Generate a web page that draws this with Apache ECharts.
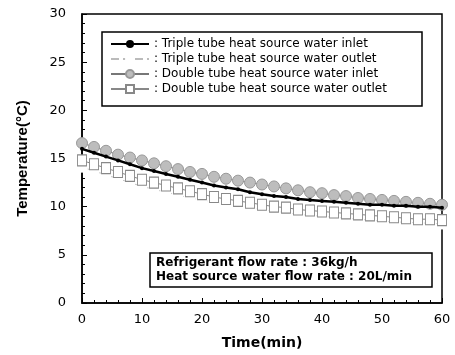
<!DOCTYPE html>
<html><head><meta charset="utf-8">
<script src="https://cdn.jsdelivr.net/npm/echarts@6/dist/echarts.min.js"></script>
<style>html,body{margin:0;padding:0;background:#fff}#c{width:455px;height:355px}</style>
</head><body><div id="c"></div>
<script>
const times = [0,2,4,6,8,10,12,14,16,18,20,22,24,26,28,30,32,34,36,38,40,42,44,46,48,50,52,54,56,58,60];
const seriesNames = [
  'Triple tube heat source water inlet',
  'Triple tube heat source water outlet',
  'Double tube heat source water inlet',
  'Double tube heat source water outlet'
];
const tripleInlet  = [16.0,15.6,15.2,14.8,14.4,14.0,13.7,13.4,13.1,12.8,12.5,12.2,12.0,11.8,11.5,11.3,11.1,11.0,10.8,10.7,10.6,10.5,10.4,10.3,10.2,10.2,10.1,10.1,10.0,10.0,9.9];
const tripleOutlet = [14.1,13.7,13.3,12.9,12.5,12.1,11.8,11.5,11.2,10.9,10.7,10.5,10.3,10.1,9.9,9.7,9.5,9.4,9.2,9.1,9.0,8.9,8.8,8.7,8.6,8.5,8.4,8.4,8.3,8.3,8.2];
const doubleInlet  = [16.6,16.2,15.8,15.4,15.1,14.8,14.5,14.2,13.9,13.6,13.4,13.1,12.9,12.7,12.5,12.3,12.1,11.9,11.7,11.5,11.4,11.2,11.1,10.9,10.8,10.7,10.6,10.5,10.4,10.3,10.2];
const doubleOutlet = [14.8,14.4,14.0,13.6,13.2,12.8,12.5,12.2,11.9,11.6,11.3,11.0,10.8,10.6,10.4,10.2,10.0,9.9,9.7,9.6,9.5,9.4,9.3,9.2,9.1,9.0,8.9,8.8,8.7,8.7,8.6];
const noteLines = ['Refrigerant flow rate : 36kg/h', 'Heat source water flow rate : 20L/min'];

const pair = arr => times.map((t,i)=>[t,arr[i]]);
const font = 'DejaVu Sans, Arial, sans-serif';
const lfont = 'Liberation Sans, Arial, sans-serif';
const chart = echarts.init(document.getElementById('c'));
chart.setOption({
  animation:false,
  backgroundColor:'#fff',
  grid:{left:82,right:13,top:14,bottom:52},
  xAxis:{type:'value',min:0,max:60,interval:10,
    name:'Time(min)',nameLocation:'middle',nameGap:33,
    nameTextStyle:{fontFamily:font,fontWeight:'bold',fontSize:14,color:'#000'},
    axisLine:{lineStyle:{color:'#000',width:1.5}},
    axisTick:{inside:true,length:5,lineStyle:{color:'#000'}},
    minorTick:{show:true,splitNumber:5,length:3,lineStyle:{color:'#000'}},
    splitLine:{show:false},
    axisLabel:{fontFamily:font,fontSize:13,color:'#000',margin:10}},
  yAxis:{type:'value',min:0,max:30,interval:5,
    name:'Temperature(°C)',nameLocation:'middle',nameGap:52,
    nameTextStyle:{fontFamily:lfont,fontWeight:'bold',fontSize:15,color:'#000'},
    axisLine:{show:true,lineStyle:{color:'#000',width:1.5}},
    axisTick:{inside:true,length:5,lineStyle:{color:'#000'}},
    minorTick:{show:true,splitNumber:5,length:3,lineStyle:{color:'#000'}},
    splitLine:{show:false},
    axisLabel:{fontFamily:font,fontSize:13,color:'#000',margin:16}},
  legend:{orient:'vertical',left:105,top:33,itemWidth:38,itemHeight:10,itemGap:3,
    data:seriesNames,
    formatter:n=>': '+n,
    textStyle:{fontFamily:font,fontSize:12,color:'#000'}},
  graphic:[
    {type:'rect',shape:{x:82,y:14,width:360,height:289},style:{fill:'none',stroke:'#000',lineWidth:1.5},silent:true},
    {type:'rect',shape:{x:102,y:32,width:320,height:74},style:{fill:'#fff',stroke:'#000',lineWidth:1.5},z:-1,silent:true},
    {type:'rect',shape:{x:150,y:253,width:282,height:34},style:{fill:'#fff',stroke:'#000',lineWidth:1.5},z:100,silent:true},
    {type:'text',x:156,y:263,style:{text:noteLines[0],font:'bold 12px '+font,fill:'#000',verticalAlign:'middle'},z:101,silent:true},
    {type:'text',x:156,y:277,style:{text:noteLines[1],font:'bold 12px '+font,fill:'#000',verticalAlign:'middle'},z:101,silent:true}
  ],
  series:[
    {name:seriesNames[2],type:'line',data:pair(doubleInlet),symbol:'circle',symbolSize:11,
      lineStyle:{color:'#777',width:1},itemStyle:{color:'#bdbdbd',borderColor:'#999',borderWidth:1},z:2},
    {name:seriesNames[1],type:'line',data:pair(tripleOutlet),symbol:'emptyCircle',symbolSize:9,
      lineStyle:{color:'#bbb',width:1,type:'dashed'},itemStyle:{color:'#fff',borderColor:'#c8c8c8',borderWidth:1},z:1},
    {name:seriesNames[3],type:'line',data:pair(doubleOutlet),symbol:'rect',symbolSize:[9,11],
      lineStyle:{color:'#888',width:1},itemStyle:{color:'#fff',borderColor:'#888',borderWidth:1},z:3},
    {name:seriesNames[0],type:'line',data:pair(tripleInlet),symbol:'circle',symbolSize:4,
      lineStyle:{color:'#000',width:2.5},itemStyle:{color:'#000'},z:4}
  ]
});
</script></body></html>
